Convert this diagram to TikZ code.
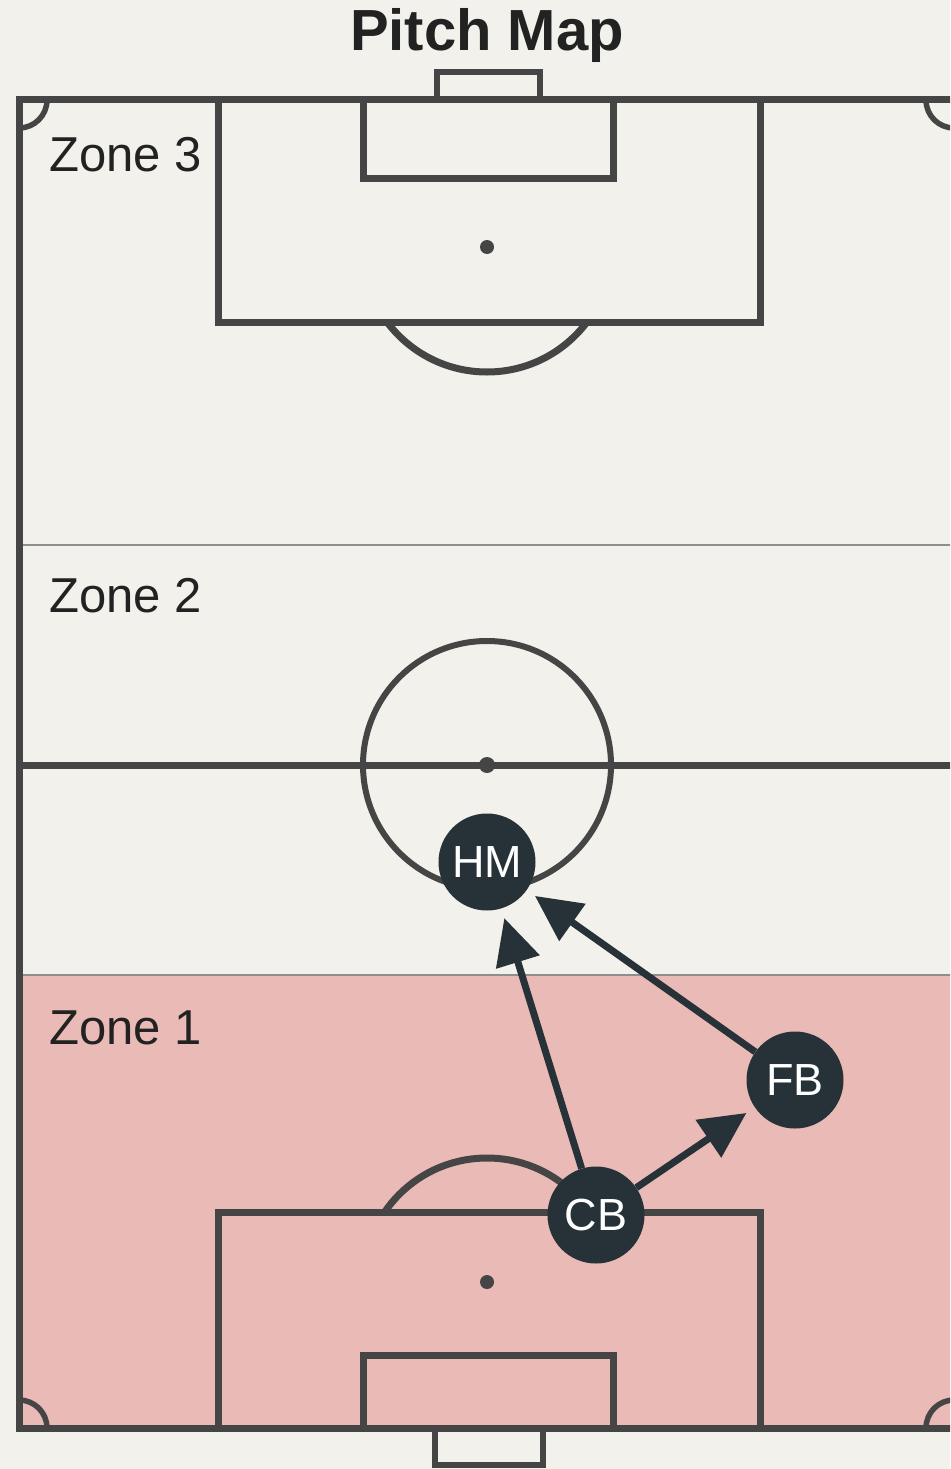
\documentclass[tikz,border=0pt]{standalone}
\usepackage{fontspec}
\setmainfont{Liberation Sans}
\usetikzlibrary{arrows.meta}
\usepackage{xcolor}
\definecolor{pitchbg}{HTML}{F2F1EC}
\definecolor{zonepink}{HTML}{E9BAB6}
\definecolor{pitchline}{HTML}{454545}
\definecolor{zoneline}{HTML}{8E8E8E}
\definecolor{playerfill}{HTML}{263238}
\definecolor{labeltext}{HTML}{222222}

\begin{document}
\begin{tikzpicture}[x=1pt,y=-1pt,
		pline/.style={pitchline, line width=7pt},
		zonesep/.style={zoneline, line width=2.5pt},
		zonelabel/.style={anchor=west, text=labeltext, font=\fontsize{49}{52}\selectfont},
		playernode/.style={circle, fill=playerfill, minimum size=97pt, inner sep=0pt, text=white, font=\fontsize{45}{48}\selectfont},
		pass/.style={-{Triangle[length=46pt,width=44pt]}, playerfill, line width=7pt, shorten >=10pt}]
				\fill[pitchbg] (0,0) rectangle (950,1469);
				\begin{scope}
				\clip (0,0) rectangle (950,1469);
				\fill[zonepink] (19,975) rectangle (954,1428);
				\draw[zonesep] (19,545) -- (954,545);
				\draw[zonesep] (19,975) -- (954,975);
				% corner arcs
				\begin{scope}
				\clip (19,100) rectangle (954,1428);
				\draw[pline, line width=5.5pt] (19,100) circle (28pt);
				\draw[pline, line width=5.5pt] (954,100) circle (28pt);
				\draw[pline, line width=5.5pt] (19,1428) circle (28pt);
				\draw[pline, line width=5.5pt] (954,1428) circle (28pt);
				\end{scope}
				% penalty arcs
				\begin{scope}
				\clip (0,322) rectangle (950,600);
				\draw[pline] (487,247) circle (125pt);
				\end{scope}
				\begin{scope}
				\clip (0,900) rectangle (950,1210);
				\draw[pline] (487,1282) circle (124pt);
				\end{scope}
				% outline and halfway
				\draw[pline] (19,100) rectangle (954,1428);
				\draw[pline] (19,765) -- (954,765);
				\draw[pline, line width=6pt] (487,765) circle (124pt);
				\fill[pitchline] (487,765) circle (8pt);
				% top end
				\draw[pline] (218,100) rectangle (760,322);
				\draw[pline] (363,100) rectangle (613,178);
				\fill[pitchline] (487,247) circle (7pt);
				\draw[pline, line width=6pt] (437,72) rectangle (540,100);
				% bottom end
				\draw[pline] (218,1212) rectangle (760,1428);
				\draw[pline] (363,1355) rectangle (613,1428);
				\fill[pitchline] (487,1282) circle (7pt);
				\draw[pline, line width=6pt] (435,1428) rectangle (543,1465);
				\end{scope}
				% labels
				\node[font=\bfseries\fontsize{58}{62}\selectfont, text=labeltext] (title) at (487,36) {Pitch Map};
				\node[zonelabel] (zthree) at (46,155) {Zone 3};
				\node[zonelabel] (ztwo) at (46,596) {Zone 2};
				\node[zonelabel] (zone) at (46,1028) {Zone 1};
				% players
				\node[playernode] (hm) at (487,862) {HM};
				\node[playernode] (cb) at (596,1215) {CB};
				\node[playernode] (fb) at (795,1080) {FB};
				\draw[pass] (cb) -- (hm);
				\draw[pass] (cb) -- (fb);
				\draw[pass] (fb) -- (hm);
			\end{tikzpicture}
\end{document}
